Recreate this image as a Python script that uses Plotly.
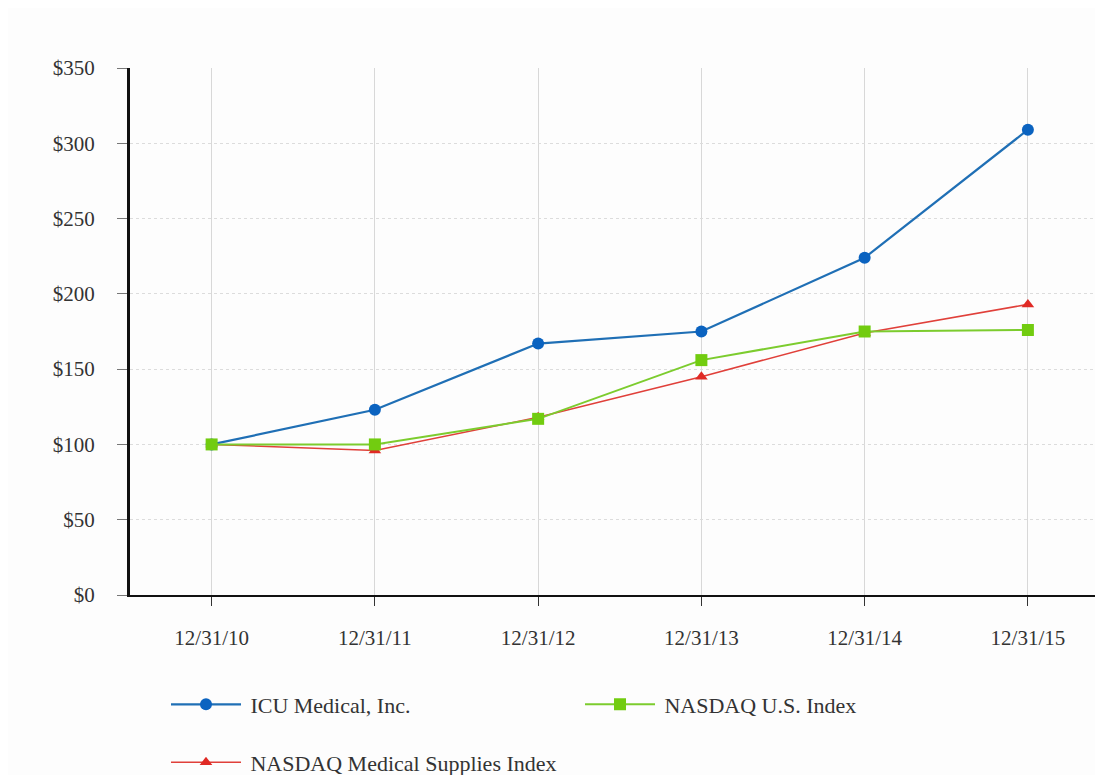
import plotly.graph_objects as go

dates = ["12/31/10", "12/31/11", "12/31/12", "12/31/13", "12/31/14", "12/31/15"]
icu = [100, 123, 167, 175, 224, 309]
nasdaq_us = [100, 100, 117, 156, 175, 176]
nasdaq_med = [100, 96, 118, 145, 174, 193]
y_ticks = [0, 50, 100, 150, 200, 250, 300, 350]
y_labels = ["$" + str(v) for v in y_ticks]

FONT = "Liberation Serif"
fig = go.Figure()
fig.add_trace(go.Scatter(x=list(range(6)), y=icu, name="\u2009ICU Medical, Inc.",
                         mode="lines+markers", line=dict(color="#1f6fb5", width=2.2),
                         marker=dict(symbol="circle", size=12, color="#0b63c0"),
                         legend="legend", showlegend=True))
fig.add_trace(go.Scatter(x=list(range(6)), y=nasdaq_med, name="\u2009NASDAQ Medical Supplies Index",
                         mode="lines+markers", line=dict(color="#e0403a", width=1.6),
                         marker=dict(symbol="triangle-up", size=11, color="#e02a25"),
                         legend="legend2", showlegend=True))
fig.add_trace(go.Scatter(x=list(range(6)), y=nasdaq_us, name="\u2009NASDAQ U.S. Index",
                         mode="lines+markers", line=dict(color="#7ccc2e", width=2),
                         marker=dict(symbol="square", size=12, color="#72cc10"),
                         legend="legend3", showlegend=True))

leg_common = dict(orientation="h", xanchor="left", yanchor="top", itemwidth=70, visible=True,
                  font=dict(family=FONT, size=22, color="#333333"), bgcolor="rgba(0,0,0,0)")

fig.update_layout(
    width=1103, height=775, showlegend=True,
    margin=dict(l=122, r=8, t=60, b=188, autoexpand=False),
    paper_bgcolor="#fdfdfd", plot_bgcolor="#fdfdfd",
    font=dict(family=FONT, size=21, color="#333333"),
    xaxis=dict(range=[-0.5, 5.46], tickmode="array", tickvals=list(range(6)), ticktext=dates,
               showgrid=True, gridcolor="#d8d8d8", gridwidth=1,
               showline=True, linecolor="#111111", linewidth=2,
               ticks="outside", ticklen=9, tickcolor="#333333", ticklabelstandoff=14,
               zeroline=False, tickfont=dict(family=FONT, size=21)),
    yaxis=dict(range=[0, 350], tickmode="array", tickvals=y_ticks, ticktext=y_labels,
               showgrid=True, gridcolor="#dcdcdc", griddash="dot", gridwidth=1,
               showline=True, linecolor="#111111", linewidth=3,
               ticks="outside", ticklen=10, tickcolor="#777777", ticklabelstandoff=18,
               zeroline=False, tickfont=dict(family=FONT, size=21)),
    legend=dict(x=0.037, y=-0.168, **leg_common),
    legend3=dict(x=0.4625, y=-0.168, **leg_common),
    legend2=dict(x=0.037, y=-0.278, **leg_common),
)

fig.write_html("out.html")
